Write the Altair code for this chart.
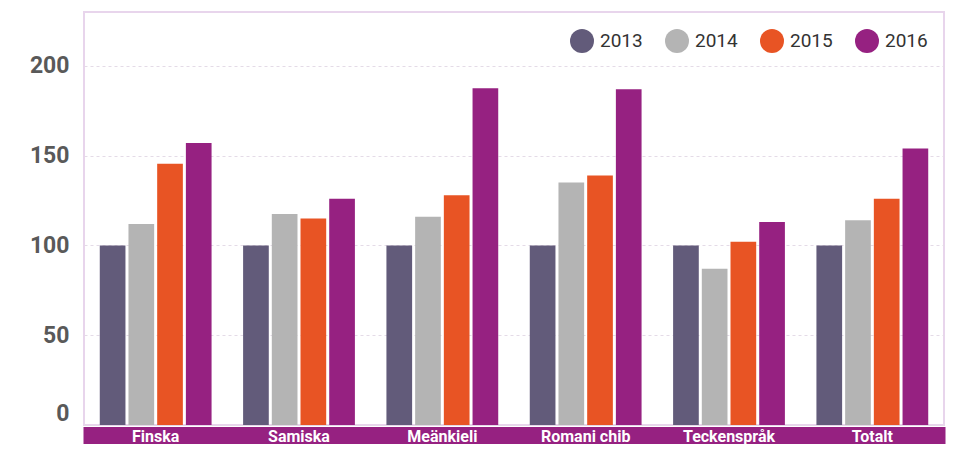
import altair as alt
import pandas as pd

categories = ["Finska", "Samiska", "Meänkieli", "Romani chib", "Teckenspråk", "Totalt"]
years = ["2013", "2014", "2015", "2016"]
v2013 = [100, 100, 100, 100, 100, 100]
v2014 = [112, 117.5, 116, 135, 87, 114]
v2015 = [145.5, 115, 128, 139, 102, 126]
v2016 = [157, 126, 187.5, 187, 113, 154]
colors = ["#625b7a", "#b4b4b4", "#e85424", "#962181"]
y_ticks = [0, 50, 100, 150, 200]

rows = []
for yr, vals in zip(years, [v2013, v2014, v2015, v2016]):
    for c, v in zip(categories, vals):
        rows.append({"kategori": c, "år": yr, "index": v})
df = pd.DataFrame(rows)

W, H = 860, 413
FONT = "Roboto"
BAND = "#962181"

bars = alt.Chart(df).mark_bar().encode(
    x=alt.X(
        "kategori:N",
        sort=categories,
        scale=alt.Scale(paddingInner=0.22, paddingOuter=0.11),
        axis=alt.Axis(
            title=None, labelAngle=0, ticks=False, tickSize=0, domain=False,
            labelColor="white", labelFont=FONT, labelFontWeight="bold",
            labelFontSize=16, labelBaseline="middle", labelPadding=11, zindex=1,
        ),
    ),
    xOffset=alt.XOffset("år:N", sort=years, scale=alt.Scale(paddingInner=0.105, paddingOuter=0)),
    y=alt.Y(
        "index:Q",
        scale=alt.Scale(domain=[0, 230], nice=False),
        axis=alt.Axis(
            title=None, values=y_ticks, format="d", grid=True,
            gridColor="#e4dbe7", gridDash=[3, 3], gridWidth=1,
            domain=False, ticks=False, labelPadding=15,
            labelFont=FONT, labelFontSize=23, labelFontWeight="bold",
            labelColor="#595959", labelFlush=True,
        ),
    ),
    color=alt.Color(
        "år:N",
        sort=years,
        scale=alt.Scale(domain=years, range=colors),
        legend=alt.Legend(
            title=None, orient="none", legendX=486, legendY=17,
            direction="horizontal", symbolType="circle", symbolSize=576,
            symbolStrokeWidth=0, symbolOpacity=1, labelFont=FONT,
            labelFontSize=19, labelColor="#333333", labelOffset=6,
            columnPadding=22, padding=0,
        ),
    ),
)

band = alt.Chart(pd.DataFrame({"d": [0]})).mark_rect(color=BAND).encode(
    x=alt.value(-0.5), x2=alt.value(861.5), y=alt.value(415), y2=alt.value(432)
)

chart = (
    alt.layer(band, bars)
    .properties(width=W, height=H, padding={"left": 21, "top": 4, "right": 0, "bottom": 0})
    .configure_view(stroke="#e8d5ec", strokeWidth=2)
)

chart.save("out.html", embed_options={"renderer": "svg", "actions": False})
